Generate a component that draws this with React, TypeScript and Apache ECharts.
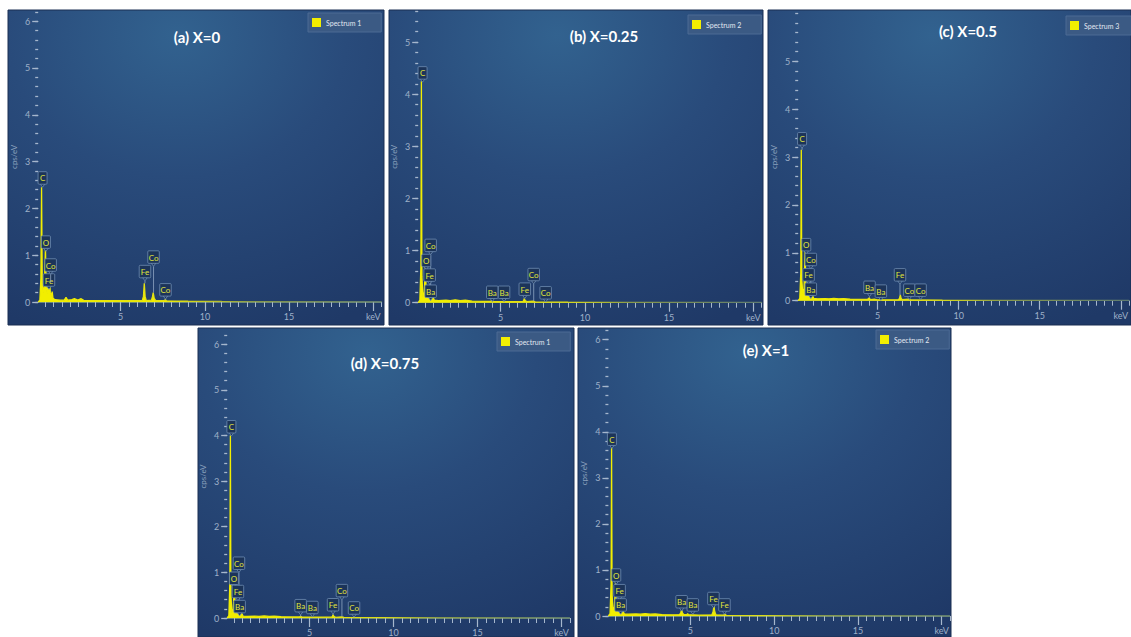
import React, { useEffect, useRef } from "react";
import * as echarts from "echarts";

type Pt = [number, number];
interface Lbl { el: string; keV: number; y: number; peak: number }

// ---- spectra (keV, cps/eV) ----
const specA: Pt[] = [
  [0.1, 0], [0.2, 0.04], [0.26, 0.5], [0.3, 2.45], [0.34, 0.4], [0.4, 0.2], [0.47, 0.35], [0.53, 1.15],
  [0.58, 0.3], [0.64, 0.18], [0.7, 0.45], [0.74, 0.25], [0.78, 0.42], [0.82, 0.2], [0.88, 0.12], [0.93, 0.22],
  [0.98, 0.08], [1.1, 0.05], [1.4, 0.04], [1.65, 0.04], [1.75, 0.1], [1.85, 0.04], [2.1, 0.05], [2.25, 0.07],
  [2.45, 0.04], [2.65, 0.07], [2.8, 0.035], [3.5, 0.03], [4.5, 0.028], [5.5, 0.027], [6.28, 0.03], [6.35, 0.12],
  [6.4, 0.4], [6.45, 0.12], [6.52, 0.03], [6.82, 0.04], [6.88, 0.1], [6.93, 0.2], [6.99, 0.08], [7.08, 0.03],
  [7.58, 0.03], [7.65, 0.05], [7.72, 0.025], [9, 0.018], [11, 0.012], [14, 0.008], [17, 0.006], [20.5, 0.005],
];
const specB: Pt[] = [
  [0.1, 0], [0.2, 0.05], [0.26, 0.7], [0.29, 4.25], [0.32, 0.5], [0.38, 0.12], [0.46, 0.2], [0.53, 0.72],
  [0.57, 0.25], [0.64, 0.12], [0.7, 0.32], [0.74, 0.18], [0.78, 0.28], [0.83, 0.12], [0.9, 0.1], [0.97, 0.12],
  [1.05, 0.05], [1.3, 0.04], [1.75, 0.05], [2.0, 0.04], [2.3, 0.055], [2.6, 0.04], [2.9, 0.05], [3.3, 0.03],
  [4.0, 0.025], [4.4, 0.025], [4.47, 0.04], [4.55, 0.022], [4.83, 0.02], [5.5, 0.018], [6.3, 0.02], [6.36, 0.04],
  [6.4, 0.08], [6.45, 0.04], [6.55, 0.02], [6.93, 0.03], [7.05, 0.015], [9, 0.01], [12, 0.008], [16, 0.006],
  [20.5, 0.005],
];
const specC: Pt[] = [
  [0.1, 0], [0.2, 0.05], [0.26, 0.6], [0.29, 3.15], [0.32, 0.45], [0.38, 0.15], [0.46, 0.25], [0.53, 1.04],
  [0.57, 0.28], [0.64, 0.15], [0.7, 0.35], [0.74, 0.2], [0.78, 0.3], [0.83, 0.12], [0.9, 0.1], [0.97, 0.12],
  [1.05, 0.05], [1.3, 0.04], [1.75, 0.045], [2.0, 0.04], [2.3, 0.05], [2.6, 0.04], [2.9, 0.045], [3.3, 0.03],
  [4.0, 0.025], [4.38, 0.025], [4.47, 0.06], [4.56, 0.022], [4.83, 0.03], [4.95, 0.02], [5.5, 0.018], [6.28, 0.02],
  [6.35, 0.05], [6.4, 0.12], [6.45, 0.05], [6.52, 0.02], [6.93, 0.035], [7.05, 0.015], [9, 0.01], [12, 0.008],
  [16, 0.006], [20.5, 0.005],
];
const specD: Pt[] = [
  [0.1, 0], [0.2, 0.05], [0.26, 0.8], [0.29, 4.0], [0.32, 0.5], [0.38, 0.12], [0.46, 0.2], [0.53, 0.75],
  [0.57, 0.25], [0.64, 0.12], [0.7, 0.3], [0.74, 0.18], [0.78, 0.25], [0.83, 0.1], [0.9, 0.08], [0.97, 0.1],
  [1.05, 0.04], [1.3, 0.035], [1.75, 0.04], [2.0, 0.035], [2.3, 0.045], [2.6, 0.035], [2.9, 0.04], [3.3, 0.03],
  [4.0, 0.022], [4.4, 0.022], [4.47, 0.035], [4.55, 0.02], [5.5, 0.016], [6.3, 0.018], [6.36, 0.035], [6.4, 0.07],
  [6.45, 0.035], [6.55, 0.015], [6.93, 0.025], [7.05, 0.012], [9, 0.01], [12, 0.007], [16, 0.006], [20.5, 0.005],
];
const specE: Pt[] = [
  [0.1, 0], [0.2, 0.05], [0.26, 0.7], [0.29, 3.68], [0.32, 0.45], [0.38, 0.12], [0.46, 0.2], [0.53, 0.75],
  [0.57, 0.22], [0.64, 0.12], [0.7, 0.3], [0.74, 0.15], [0.8, 0.12], [0.88, 0.08], [0.97, 0.1], [1.05, 0.045],
  [1.3, 0.04], [1.75, 0.045], [2.0, 0.04], [2.3, 0.05], [2.6, 0.04], [2.9, 0.045], [3.3, 0.03], [4.0, 0.025],
  [4.35, 0.03], [4.42, 0.07], [4.47, 0.13], [4.52, 0.07], [4.6, 0.028], [4.78, 0.03], [4.83, 0.05], [4.88, 0.028],
  [5.5, 0.02], [6.28, 0.025], [6.35, 0.09], [6.4, 0.22], [6.45, 0.09], [6.52, 0.025], [6.98, 0.02], [7.06, 0.04],
  [7.14, 0.015], [9, 0.01], [12, 0.008], [16, 0.006], [20.5, 0.005],
];

// ---- element labels ----
const labelsA: Lbl[] = [
  { el: "C", keV: 0.36, y: 2.65, peak: 2.45 },
  { el: "O", keV: 0.56, y: 1.28, peak: 1.15 },
  { el: "Fe", keV: 0.74, y: 0.47, peak: 0.42 },
  { el: "Co", keV: 0.84, y: 0.79, peak: 0.42 },
  { el: "Fe", keV: 6.44, y: 0.65, peak: 0.4 },
  { el: "Co", keV: 6.95, y: 0.96, peak: 0.2 },
  { el: "Co", keV: 7.66, y: 0.26, peak: 0.05 },
];
const labelsB: Lbl[] = [
  { el: "C", keV: 0.36, y: 4.41, peak: 4.25 },
  { el: "Co", keV: 0.84, y: 1.1, peak: 0.3 },
  { el: "O", keV: 0.58, y: 0.81, peak: 0.7 },
  { el: "Fe", keV: 0.78, y: 0.53, peak: 0.3 },
  { el: "Ba", keV: 0.84, y: 0.22, peak: 0.1 },
  { el: "Ba", keV: 4.5, y: 0.2, peak: 0.04 },
  { el: "Ba", keV: 5.2, y: 0.2, peak: 0.02 },
  { el: "Fe", keV: 6.43, y: 0.26, peak: 0.08 },
  { el: "Co", keV: 6.96, y: 0.54, peak: 0.03 },
  { el: "Co", keV: 7.67, y: 0.19, peak: 0.02 },
];
const labelsC: Lbl[] = [
  { el: "C", keV: 0.34, y: 3.38, peak: 3.15 },
  { el: "O", keV: 0.6, y: 1.17, peak: 1.04 },
  { el: "Co", keV: 0.88, y: 0.86, peak: 0.3 },
  { el: "Fe", keV: 0.74, y: 0.54, peak: 0.3 },
  { el: "Ba", keV: 0.88, y: 0.24, peak: 0.1 },
  { el: "Ba", keV: 4.5, y: 0.28, peak: 0.06 },
  { el: "Ba", keV: 5.2, y: 0.2, peak: 0.02 },
  { el: "Fe", keV: 6.38, y: 0.54, peak: 0.12 },
  { el: "Co", keV: 6.96, y: 0.22, peak: 0.03 },
  { el: "Co", keV: 7.65, y: 0.22, peak: 0.02 },
];
const labelsD: Lbl[] = [
  { el: "C", keV: 0.35, y: 4.19, peak: 4.0 },
  { el: "Co", keV: 0.8, y: 1.2, peak: 0.3 },
  { el: "O", keV: 0.5, y: 0.87, peak: 0.75 },
  { el: "Fe", keV: 0.74, y: 0.58, peak: 0.3 },
  { el: "Ba", keV: 0.84, y: 0.25, peak: 0.1 },
  { el: "Ba", keV: 4.47, y: 0.27, peak: 0.03 },
  { el: "Ba", keV: 5.17, y: 0.23, peak: 0.02 },
  { el: "Fe", keV: 6.4, y: 0.29, peak: 0.07 },
  { el: "Co", keV: 6.93, y: 0.6, peak: 0.03 },
  { el: "Co", keV: 7.65, y: 0.22, peak: 0.02 },
];
const labelsE: Lbl[] = [
  { el: "C", keV: 0.31, y: 3.84, peak: 3.68 },
  { el: "O", keV: 0.57, y: 0.89, peak: 0.75 },
  { el: "Fe", keV: 0.77, y: 0.55, peak: 0.3 },
  { el: "Ba", keV: 0.83, y: 0.24, peak: 0.1 },
  { el: "Ba", keV: 4.47, y: 0.31, peak: 0.13 },
  { el: "Ba", keV: 5.14, y: 0.24, peak: 0.04 },
  { el: "Fe", keV: 6.37, y: 0.38, peak: 0.22 },
  { el: "Fe", keV: 7.03, y: 0.24, peak: 0.03 },
];

const panelTitles = ["(a) X=0", "(b) X=0.25", "(c) X=0.5", "(d) X=0.75", "(e) X=1"];
const spectrumNames = ["Spectrum 1", "Spectrum 2", "Spectrum 3", "Spectrum 1", "Spectrum 2"];
const yMaxes = [6.2, 5.6, 6.0, 6.2, 6.2];
const yTickLabels = [
  [0, 1, 2, 3, 4, 5, 6],
  [0, 1, 2, 3, 4, 5],
  [0, 1, 2, 3, 4, 5],
  [0, 1, 2, 3, 4, 5, 6],
  [0, 1, 2, 3, 4, 5, 6],
];
const xTickLabels = [5, 10, 15, 20];
const xUnitLabel = "keV";
const yAxisName = "cps/eV";

const spectra = [specA, specB, specC, specD, specE];
const labelSets = [labelsA, labelsB, labelsC, labelsD, labelsE];

// ---- layout (pixels) ----
const layouts = [
  { box: [8, 10, 376, 315], grid: { left: 38.2, top: 11.8, width: 343.5, height: 290.2 }, title: [197, 37], legend: [308, 13] },
  { box: [389, 10, 374, 315], grid: { left: 418.2, top: 10.9, width: 343.5, height: 291.8 }, title: [604, 36], legend: [688, 15] },
  { box: [768, 10, 363, 315], grid: { left: 798.2, top: 13.3, width: 342.7, height: 287.4 }, title: [968, 31], legend: [1066, 16] },
  { box: [198, 328, 376, 309], grid: { left: 227.2, top: 335, width: 342.7, height: 283.3 }, title: [385, 363], legend: [497, 332] },
  { box: [578, 328, 373, 309], grid: { left: 608.4, top: 330.5, width: 341.7, height: 285.5 }, title: [766, 350], legend: [876, 330] },
];

const X_MIN = 0.1;
const X_MAX = 20.5;
const axisTextColor = "#9fb1c9";
const tickColor = "#a6b7cd";
const yellow = "#f2ee00";

function minorX(): number[] {
  const out: number[] = [];
  for (let i = 1; i <= 41; i++) out.push(i * 0.5);
  return out;
}
function minorY(max: number): number[] {
  const out: number[] = [];
  for (let i = 0; i * 0.2 <= max + 1e-9; i++) out.push(Math.round(i * 2) / 10);
  return out;
}

function makeRender(labels: Lbl[]) {
  return (params: any, api: any) => {
    const l = labels[params.dataIndex];
    const c = api.coord([api.value(0), api.value(1)]);
    const p = api.coord([api.value(0), api.value(2)]);
    const w = l.el.length > 1 ? 11.5 : 9;
    const h = 12.5;
    const bottom = c[1] + h / 2;
    return {
      type: "group",
      children: [
        {
          type: "line",
          shape: { x1: c[0], y1: bottom + 3, x2: c[0], y2: Math.max(p[1], bottom + 3) },
          style: { stroke: "#8fa6c3", lineWidth: 0.8 },
        },
        {
          type: "polygon",
          shape: { points: [[c[0] - 2.5, bottom - 0.5], [c[0] + 2.5, bottom - 0.5], [c[0], bottom + 3]] },
          style: { fill: "#1c3459", stroke: "#6f8db3", lineWidth: 0.8 },
        },
        {
          type: "rect",
          shape: { x: c[0] - w / 2, y: c[1] - h / 2, width: w, height: h, r: 1 },
          style: { fill: "#1c3459", stroke: "#6f8db3", lineWidth: 0.8 },
        },
        {
          type: "text",
          x: c[0],
          y: c[1] + 0.5,
          style: {
            text: l.el,
            fill: "#e0e43c",
            fontSize: 8,
            fontFamily: "Lato",
            align: "center",
            verticalAlign: "middle",
            textAlign: "center",
            textVerticalAlign: "middle",
          },
        },
      ],
    };
  };
}

function buildOption() {
  const grid: any[] = [];
  const xAxis: any[] = [];
  const yAxis: any[] = [];
  const series: any[] = [];
  const legend: any[] = [];
  const graphic: any[] = [];

  layouts.forEach((L, i) => {
    graphic.push({
      type: "rect",
      z: -10,
      shape: { x: L.box[0], y: L.box[1], width: L.box[2], height: L.box[3] },
      style: {
        fill: {
          type: "radial",
          x: 0.45,
          y: 0.08,
          r: 1.0,
          colorStops: [
            { offset: 0, color: "#32628f" },
            { offset: 0.45, color: "#294b7b" },
            { offset: 1, color: "#1f3967" },
          ],
        },
        stroke: "#1a2f52",
        lineWidth: 1,
      },
    });
    graphic.push({
      type: "text",
      z: 10,
      x: L.title[0],
      y: L.title[1],
      style: {
        text: panelTitles[i],
        fill: "#ffffff",
        fontSize: 15,
        fontWeight: "bold",
        fontFamily: "Lato",
        align: "center",
        verticalAlign: "middle",
        textAlign: "center",
        textVerticalAlign: "middle",
      },
    });

    grid.push({ ...L.grid, containLabel: false });
    const xi = xAxis.length;
    xAxis.push({
      gridIndex: i,
      type: "value",
      position: "bottom",
      min: X_MIN,
      max: X_MAX,
      axisLine: { show: true, lineStyle: { color: "#6d8a78", width: 1 } },
      axisTick: { show: true, customValues: xTickLabels, length: 9, lineStyle: { color: tickColor, width: 1.2 } },
      axisLabel: {
        show: true,
        customValues: xTickLabels,
        formatter: (v: number) => (v === 20 ? xUnitLabel : String(v)),
        color: axisTextColor,
        fontSize: 9,
        fontFamily: "Lato",
        margin: 10,
      },
      splitLine: { show: false },
    });
    xAxis.push({
      gridIndex: i,
      type: "value",
      position: "bottom",
      offset: 0,
      min: X_MIN,
      max: X_MAX,
      axisLine: { show: false },
      axisTick: { show: true, customValues: minorX(), length: 5, lineStyle: { color: tickColor, width: 1 } },
      axisLabel: { show: false },
      splitLine: { show: false },
    });
    const yi = yAxis.length;
    yAxis.push({
      gridIndex: i,
      type: "value",
      position: "left",
      min: 0,
      max: yMaxes[i],
      name: yAxisName,
      nameLocation: "middle",
      nameRotate: 90,
      nameGap: 20,
      nameMoveOverlap: false,
      nameTextStyle: { color: "#8aa0bd", fontSize: 8, fontFamily: "Lato" },
      axisLine: { show: false },
      axisTick: { show: true, customValues: yTickLabels[i], length: 6, lineStyle: { color: tickColor, width: 1.3 } },
      axisLabel: {
        show: true,
        customValues: yTickLabels[i],
        color: axisTextColor,
        fontSize: 9,
        fontFamily: "Lato",
        margin: 8,
      },
      splitLine: { show: false },
    });
    yAxis.push({
      gridIndex: i,
      type: "value",
      position: "left",
      offset: 0,
      min: 0,
      max: yMaxes[i],
      axisLine: { show: false },
      axisTick: { show: true, customValues: minorY(yMaxes[i]), length: 3, lineStyle: { color: tickColor, width: 1.3 } },
      axisLabel: { show: false },
      splitLine: { show: false },
    });

    series.push({
      type: "line",
      name: spectrumNames[i],
      xAxisIndex: xi,
      yAxisIndex: yi,
      data: spectra[i],
      showSymbol: false,
      symbol: "none",
      silent: true,
      z: 3,
      itemStyle: { color: yellow },
      lineStyle: {
        width: 1.3,
        color: {
          type: "linear",
          x: 0,
          y: 0,
          x2: 1,
          y2: 0,
          colorStops: [
            { offset: 0, color: yellow },
            { offset: 0.45, color: "#dcdc18" },
            { offset: 0.62, color: "#889a4c" },
            { offset: 1, color: "#5f7c70" },
          ],
        },
      },
      areaStyle: { color: yellow, opacity: 1 },
    });
    series.push({
      type: "custom",
      name: "labels-" + i,
      xAxisIndex: xi,
      yAxisIndex: yi,
      silent: true,
      z: 5,
      data: labelSets[i].map((l) => [l.keV, l.y, l.peak]),
      renderItem: makeRender(labelSets[i]),
    });

    legend.push({
      left: L.legend[0],
      top: L.legend[1],
      data: [spectrumNames[i]],
      icon: "rect",
      itemWidth: 9,
      itemHeight: 9,
      selectedMode: false,
      backgroundColor: "#3b5a84",
      borderColor: "#4c6b94",
      borderWidth: 1,
      padding: [5, 20, 5, 4],
      textStyle: { color: "#e2e8f0", fontSize: 7, fontFamily: "Lato" },
    });
  });

  return {
    animation: false,
    backgroundColor: "#ffffff",
    grid,
    xAxis,
    yAxis,
    series,
    legend,
    graphic: { elements: graphic },
  };
}

export default function App() {
  const ref = useRef<HTMLDivElement | null>(null);
  useEffect(() => {
    if (!ref.current) return;
    const chart = echarts.init(ref.current, undefined, { renderer: "svg" });
    chart.setOption(buildOption() as any);
    return () => {
      chart.dispose();
    };
  }, []);
  return (
    <div
      ref={ref}
      style={{ position: "fixed", left: 0, top: 0, width: 1131, height: 637 }}
    />
  );
}
